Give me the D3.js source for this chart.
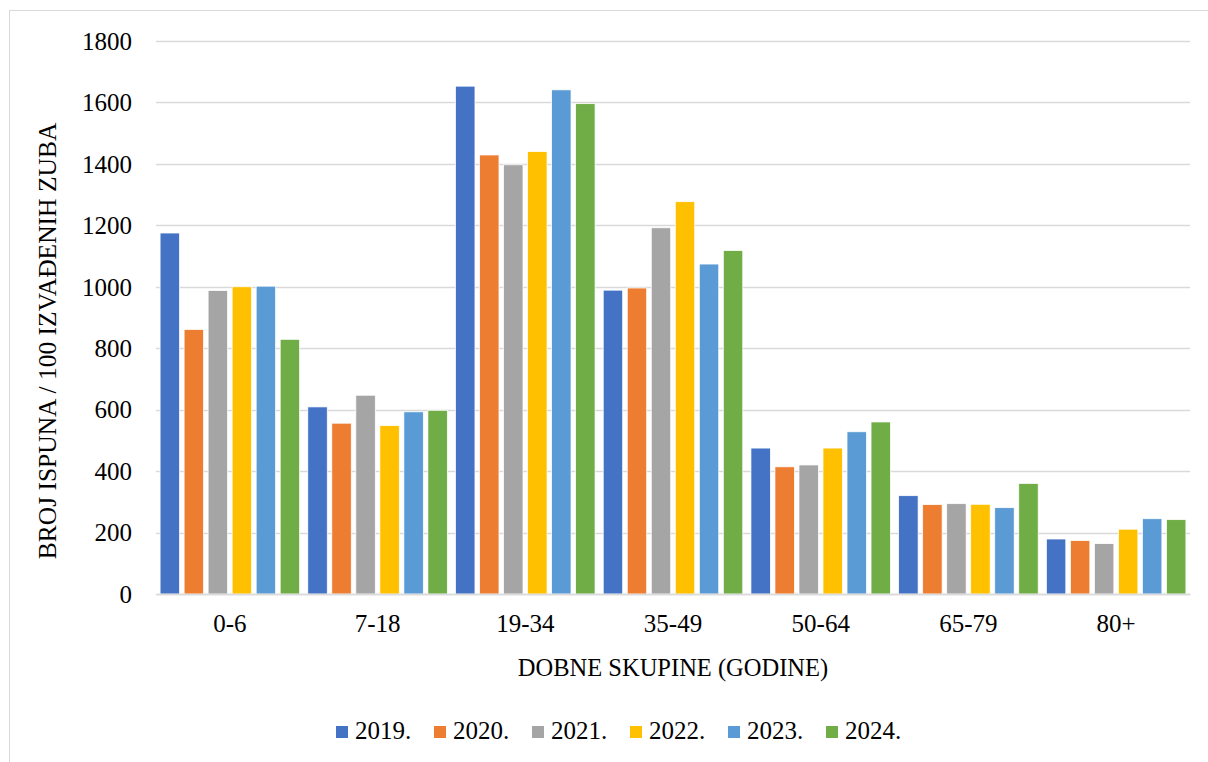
<!DOCTYPE html>
<html>
<head>
<meta charset="utf-8">
<script src="https://cdn.jsdelivr.net/npm/d3@7"></script>
<style>
  body { margin: 0; background: #fff; }
  svg text { font-family: "Liberation Serif", "Times New Roman", serif; fill: #000; }
</style>
</head>
<body>
<div id="chart"></div>
<script>
// Dobne skupine (kategorije)
const skupine = ["0-6", "7-18", "19-34", "35-49", "50-64", "65-79", "80+"];

// Godine (serije)
const godine = ["2019.", "2020.", "2021.", "2022.", "2023.", "2024."];

// Vrijednosti po godinama
const v2019 = [1175, 609, 1653, 989, 475, 320, 179];
const v2020 = [861, 556, 1429, 996, 414, 291, 174];
const v2021 = [988, 647, 1397, 1192, 420, 294, 164];
const v2022 = [1000, 548, 1440, 1277, 475, 292, 211];
const v2023 = [1002, 593, 1641, 1074, 528, 281, 245];
const v2024 = [829, 598, 1596, 1118, 560, 360, 242];
const vrijednosti = [v2019, v2020, v2021, v2022, v2023, v2024];

// Oznake na y osi
const yTicks = [0, 200, 400, 600, 800, 1000, 1200, 1400, 1600, 1800];

const boje = ["#4472C4", "#ED7D31", "#A5A5A5", "#FFC000", "#5B9BD5", "#70AD47"];

// Dimenzije
const width = 1208, height = 762;
const plot = { left: 156, right: 1190, top: 41, bottom: 594 };

const svg = d3.select("#chart").append("svg")
  .attr("width", width)
  .attr("height", height);

// okvir grafikona
svg.append("rect")
  .attr("x", 9.5).attr("y", 10.5)
  .attr("width", 1220).attr("height", 780)
  .attr("fill", "#fff")
  .attr("stroke", "#d9d9d9");

const x0 = d3.scaleBand()
  .domain(skupine)
  .range([plot.left, plot.right])
  .padding(0);

const x1 = d3.scaleBand()
  .domain(godine)
  .range([0, x0.bandwidth()])
  .paddingInner(0.19)
  .paddingOuter(0.17);

const y = d3.scaleLinear()
  .domain([0, 1800])
  .range([plot.bottom, plot.top]);

const color = d3.scaleOrdinal().domain(godine).range(boje);

// mreža
svg.append("g")
  .selectAll("line")
  .data(yTicks)
  .enter().append("line")
  .attr("x1", plot.left).attr("x2", plot.right)
  .attr("y1", d => Math.round(y(d)) + 0.5)
  .attr("y2", d => Math.round(y(d)) + 0.5)
  .attr("stroke", "#d9d9d9")
  .attr("stroke-width", 1.3);

// y os (samo oznake)
const yAxis = svg.append("g")
  .attr("transform", `translate(${plot.left},0)`)
  .call(d3.axisLeft(y).tickValues(yTicks).tickFormat(d3.format("d")).tickSize(0).tickPadding(24));
yAxis.select(".domain").remove();
yAxis.selectAll("text")
  .style("font-size", "25px")
  .attr("dy", "0.33em");

// stupci
const grupe = svg.append("g")
  .selectAll("g")
  .data(skupine)
  .enter().append("g")
  .attr("transform", d => `translate(${x0(d)},0)`);

grupe.selectAll("rect")
  .data((d, i) => godine.map((g, j) => ({ godina: g, value: vrijednosti[j][i] })))
  .enter().append("rect")
  .attr("x", d => x1(d.godina))
  .attr("width", x1.bandwidth())
  .attr("y", d => y(d.value))
  .attr("height", d => y(0) - y(d.value))
  .attr("fill", d => color(d.godina))
  .attr("stroke", "#fff")
  .attr("stroke-width", 0.75);

// x os
const xAxis = svg.append("g")
  .attr("transform", `translate(0,${plot.bottom})`)
  .call(d3.axisBottom(x0).tickSize(0).tickPadding(20));
xAxis.select(".domain")
  .attr("stroke", "#d9d9d9")
  .attr("stroke-width", 1.3);
xAxis.selectAll("text")
  .style("font-size", "25px")
  .attr("dy", "0.71em");

// naslovi osi
svg.append("text")
  .attr("x", (plot.left + plot.right) / 2)
  .attr("y", 676)
  .attr("text-anchor", "middle")
  .style("font-size", "24.5px")
  .text("DOBNE SKUPINE (GODINE)");

svg.append("text")
  .attr("transform", "translate(56,341) rotate(-90)")
  .attr("text-anchor", "middle")
  .style("font-size", "25.5px")
  .text("BROJ ISPUNA / 100 IZVAĐENIH ZUBA");

// legenda
const legenda = svg.append("g")
  .selectAll("g")
  .data(godine)
  .enter().append("g")
  .attr("transform", (d, i) => `translate(${336 + i * 98},726)`);

legenda.append("rect")
  .attr("width", 12).attr("height", 12)
  .attr("fill", d => color(d));

legenda.append("text")
  .attr("x", 19).attr("y", 13)
  .style("font-size", "25px")
  .text(d => d);
</script>
</body>
</html>
